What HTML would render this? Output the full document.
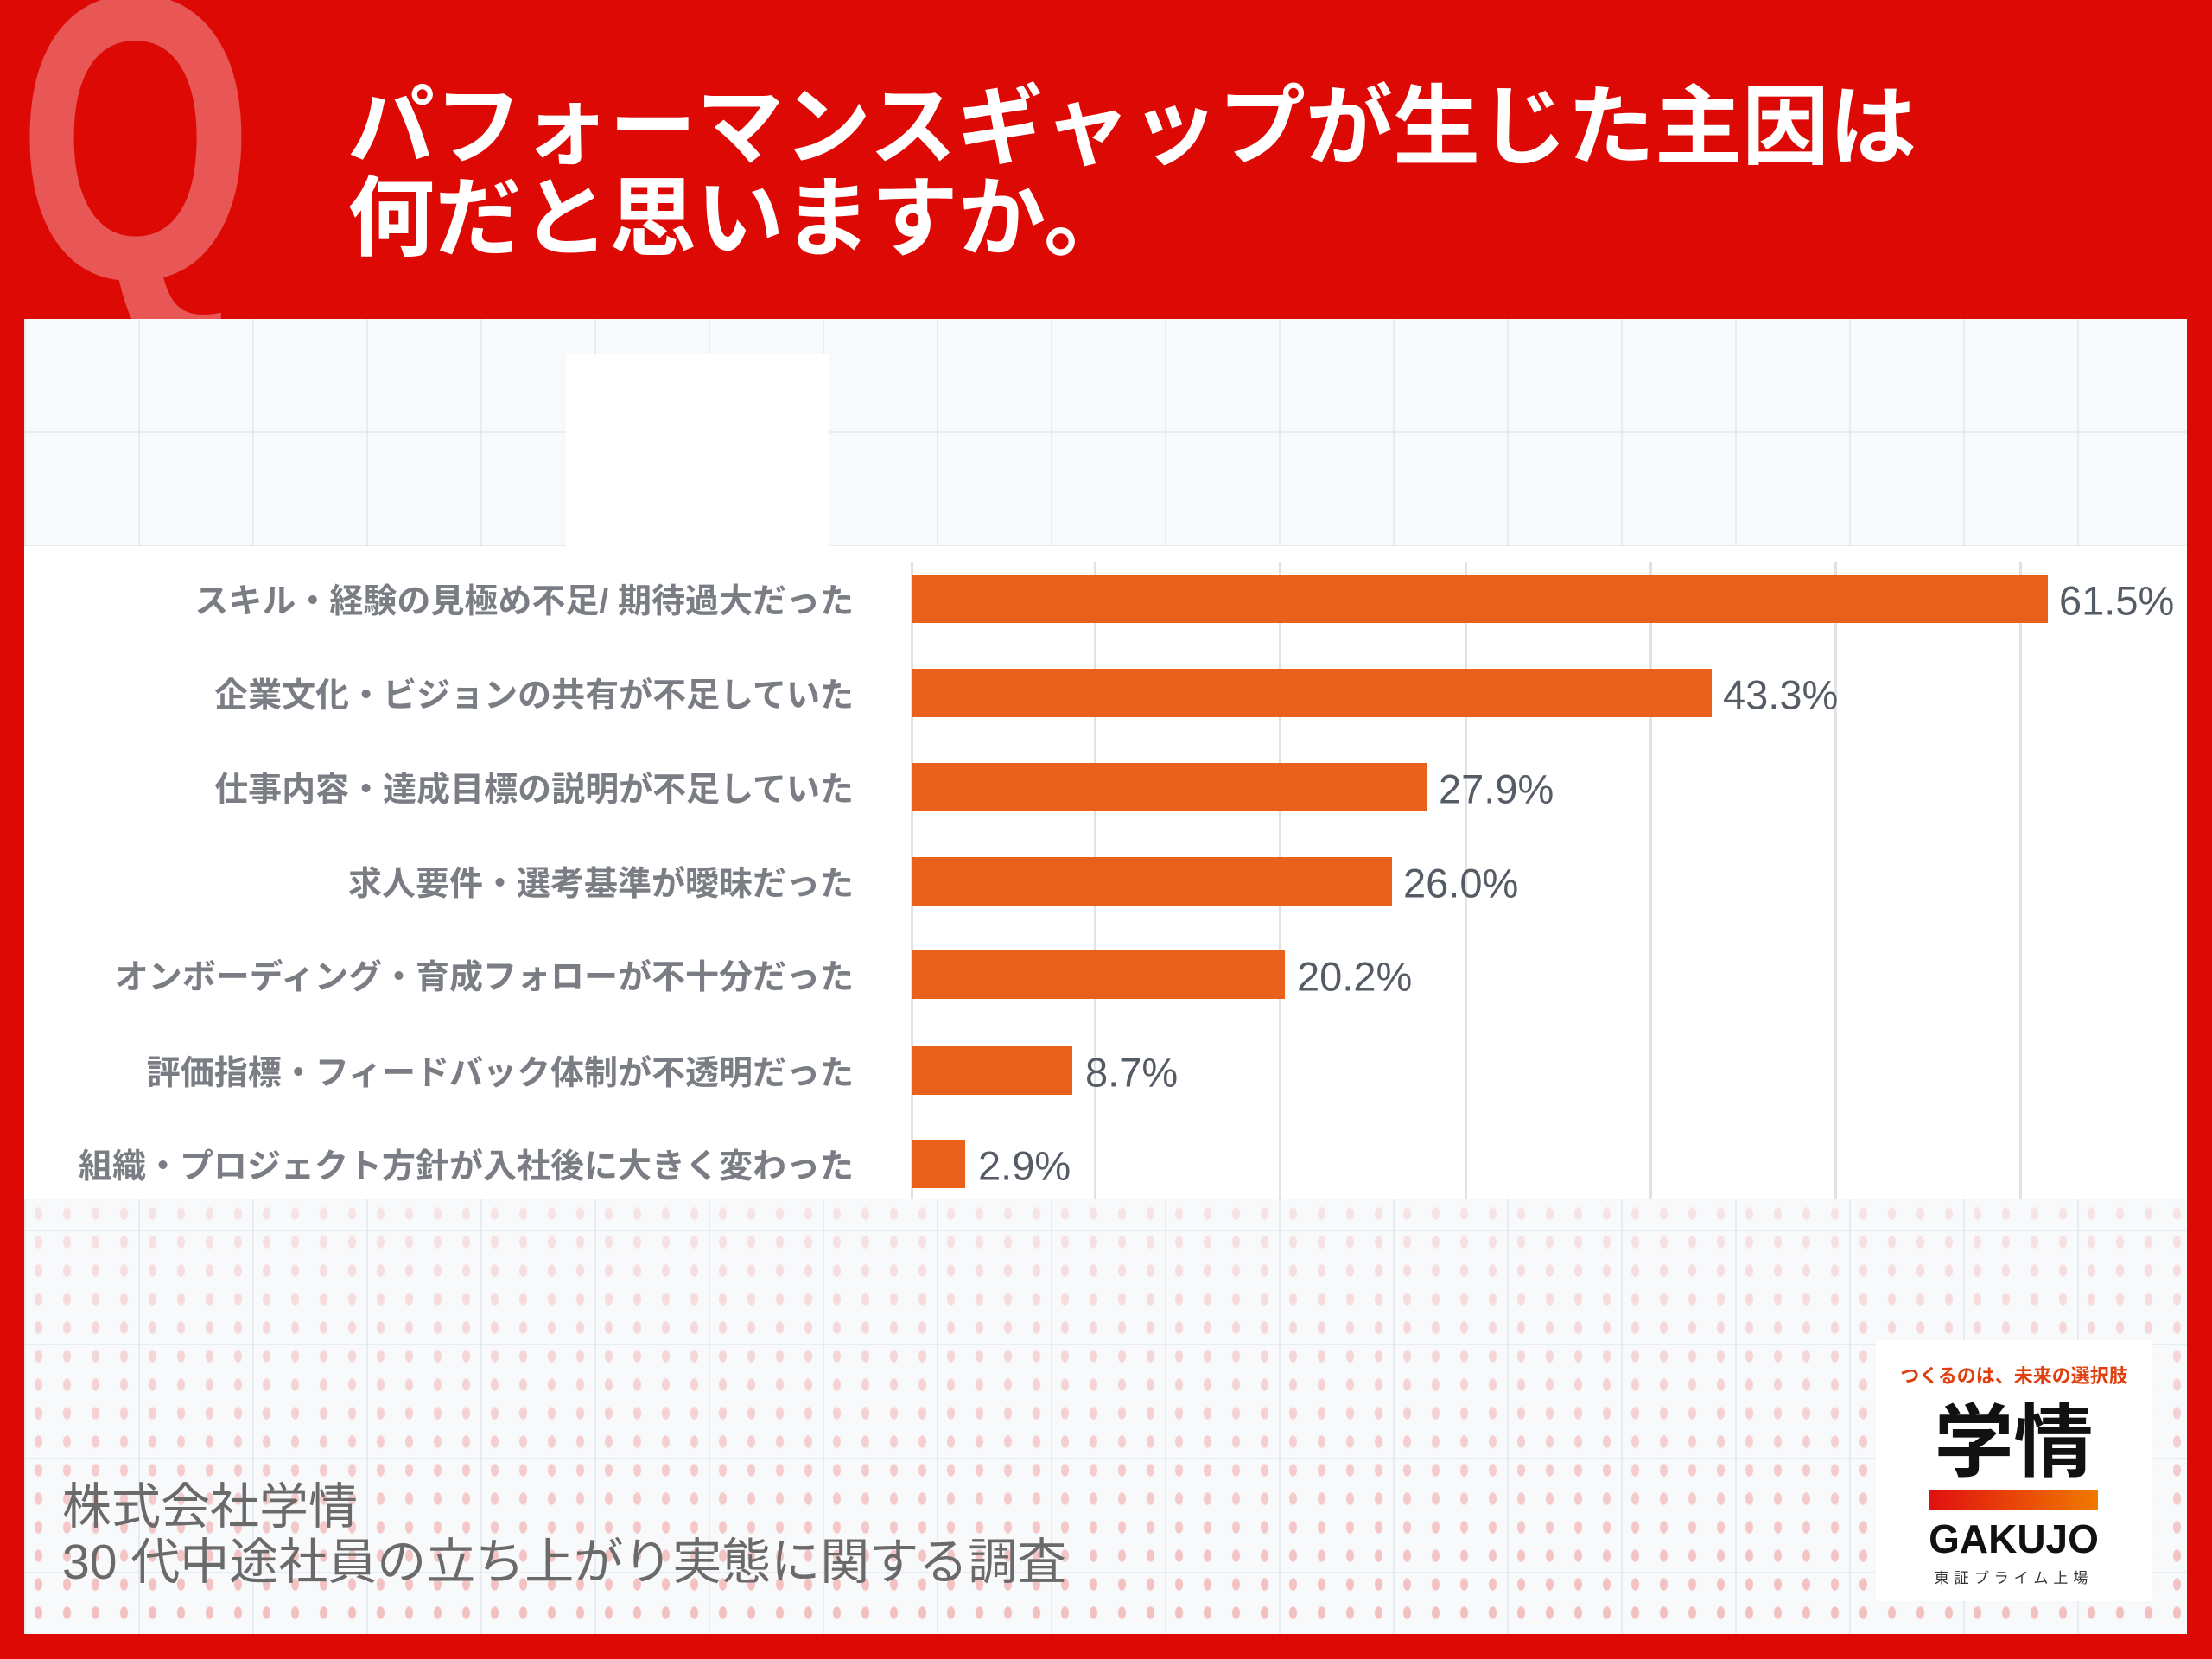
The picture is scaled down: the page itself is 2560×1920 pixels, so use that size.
<!DOCTYPE html>
<html><head><meta charset="utf-8"><style>
html,body{margin:0;padding:0}
body{width:2560px;height:1920px;background:#dc0905;position:relative;overflow:hidden;font-family:"Liberation Sans","Noto Sans CJK JP",sans-serif}
.abs{position:absolute}
.panel{left:28px;top:369px;width:2503px;height:1522px;background:#f8f9fb;overflow:hidden;
background-image:linear-gradient(90deg,rgba(200,210,225,.35) 2px,transparent 2px),linear-gradient(0deg,rgba(200,210,225,.35) 2px,transparent 2px);background-size:132px 132px}
.dots{left:28px;top:1388px;width:2503px;height:503px;background-image:radial-gradient(ellipse 5px 8px,rgba(240,150,150,.6) 80%,transparent 100%);background-size:33px 33px;
-webkit-mask-image:linear-gradient(180deg,rgba(0,0,0,.35),rgba(0,0,0,1));}
.chart{left:28px;top:632px;width:2503px;height:756px;background:#fff}
.grid{top:650px;width:3px;height:738px;background:#e2e2e2}
.bar{left:1055px;height:56px;background:#e8601a}
.lab{right:1572px;font-size:39px;color:#5a5f66;white-space:nowrap;font-weight:bold;opacity:.8;transform:translateY(-50%)}
.val{font-size:47px;color:#555c66;transform:translateY(-50%)}
.title{left:402px;color:#fff;font-size:101px;font-weight:bold;line-height:106px;font-family:"Noto Sans CJK JP",sans-serif}
</style></head><body>
<div class="abs" style="left:20px;top:-75px;font-size:470px;font-weight:bold;color:#e85656;line-height:1;font-family:'Liberation Sans',sans-serif;transform:scaleX(0.75);transform-origin:left top">Q</div>
<div class="abs title" style="top:86px">パフォーマンスギャップが生じた主因は<br>何だと思いますか。</div>
<div class="abs panel"></div>
<div class="abs dots"></div>
<div class="abs" style="left:655px;top:410px;width:305px;height:222px;background:#fff"></div>
<div class="abs chart"></div>
<div class="abs grid" style="left:1054px"></div>
<div class="abs grid" style="left:1266px"></div>
<div class="abs grid" style="left:1480px"></div>
<div class="abs grid" style="left:1695px"></div>
<div class="abs grid" style="left:1909px"></div>
<div class="abs grid" style="left:2123px"></div>
<div class="abs grid" style="left:2337px"></div>

<div class="abs bar" style="top:665px;width:1315px"></div>
<div class="abs bar" style="top:774px;width:926px"></div>
<div class="abs bar" style="top:883px;width:596px"></div>
<div class="abs bar" style="top:992px;width:556px"></div>
<div class="abs bar" style="top:1100px;width:432px"></div>
<div class="abs bar" style="top:1211px;width:186px"></div>
<div class="abs bar" style="top:1319px;width:62px"></div>

<div class="abs lab" style="top:693px">スキル・経験の見極め不足/ 期待過大だった</div>
<div class="abs lab" style="top:802px">企業文化・ビジョンの共有が不足していた</div>
<div class="abs lab" style="top:911px">仕事内容・達成目標の説明が不足していた</div>
<div class="abs lab" style="top:1020px">求人要件・選考基準が曖昧だった</div>
<div class="abs lab" style="top:1128px">オンボーディング・育成フォローが不十分だった</div>
<div class="abs lab" style="top:1239px">評価指標・フィードバック体制が不透明だった</div>
<div class="abs lab" style="top:1347px">組織・プロジェクト方針が入社後に大きく変わった</div>

<div class="abs val" style="left:2383px;top:695px">61.5%</div>
<div class="abs val" style="left:1994px;top:804px">43.3%</div>
<div class="abs val" style="left:1665px;top:913px">27.9%</div>
<div class="abs val" style="left:1624px;top:1022px">26.0%</div>
<div class="abs val" style="left:1501px;top:1130px">20.2%</div>
<div class="abs val" style="left:1256px;top:1241px">8.7%</div>
<div class="abs val" style="left:1132px;top:1349px">2.9%</div>

<div class="abs" style="left:72px;top:1712px;font-size:57px;line-height:64px;color:#6a6a6a">株式会社学情<br>30 代中途社員の立ち上がり実態に関する調査</div>

<div class="abs" style="left:2171px;top:1551px;width:319px;height:302px;background:#fff"></div>
<div class="abs" style="left:2195px;top:1575px;width:272px;text-align:center;font-size:22px;font-weight:bold;color:#e04010;white-space:nowrap">つくるのは、未来の選択肢</div>
<div class="abs" style="left:2228px;top:1612px;width:205px;text-align:center;font-size:92px;font-weight:bold;color:#111;line-height:100px;font-family:'Noto Sans CJK JP',sans-serif">学情</div>
<div class="abs" style="left:2233px;top:1724px;width:195px;height:23px;background:linear-gradient(90deg,#e01010,#f07a00)"></div>
<div class="abs" style="left:2228px;top:1754px;width:205px;text-align:center;font-size:46px;font-weight:bold;color:#111">GAKUJO</div>
<div class="abs" style="left:2228px;top:1812px;width:205px;text-align:center;font-size:17px;color:#333;letter-spacing:6px">東証プライム上場</div>
</body></html>
